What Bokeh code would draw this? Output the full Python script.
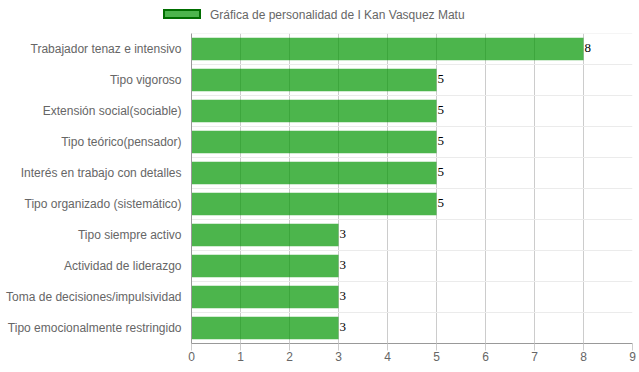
from bokeh.plotting import figure
from bokeh.layouts import column
from bokeh.models import (FactorRange, Range1d, FixedTicker, Span, Div, ColumnDataSource)
from bokeh.core.properties import value
from bokeh.embed import file_html
from bokeh.resources import INLINE

categories = [
    "Trabajador tenaz e intensivo",
    "Tipo vigoroso",
    "Extensión social(sociable)",
    "Tipo teórico(pensador)",
    "Interés en trabajo con detalles",
    "Tipo organizado (sistemático)",
    "Tipo siempre activo",
    "Actividad de liderazgo",
    "Toma de decisiones/impulsividad",
    "Tipo emocionalmente restringido",
]
scores = [8, 5, 5, 5, 5, 5, 3, 3, 3, 3]
series_name = "Gráfica de personalidad de I Kan Vasquez Matu"
x_ticks = [0, 1, 2, 3, 4, 5, 6, 7, 8, 9]

FILL_CSS = "rgba(0,150,0,0.7)"
EDGE_CSS = "rgb(0,110,0)"
FILL = (0, 150, 0)

src = ColumnDataSource(dict(cat=categories, val=scores, lbl=[str(v) for v in scores]))

# ---- legend strip (HTML) ----
legend_html = (
    '<div style="position:relative;width:630px;height:25px;'
    'font-family:\'Liberation Sans\',Arial,sans-serif;font-size:12px;color:#666666;">'
    '<div style="position:absolute;left:163px;top:9px;width:38px;height:10px;'
    f'border:2px solid {EDGE_CSS};background:{FILL_CSS};"></div>'
    '<span style="position:absolute;left:210px;top:8px;line-height:14px;white-space:nowrap;">'
    f'{series_name}</span></div>'
)
leg = Div(text=legend_html, width=630, height=25, margin=(0, 0, 0, 0))

# ---- main chart ----
p = figure(frame_width=441, frame_height=310, output_backend="svg", toolbar_location=None,
           y_range=FactorRange(factors=list(reversed(categories))),
           x_range=Range1d(x_ticks[0], x_ticks[-1]),
           min_border_left=191, min_border_right=6, min_border_top=8, min_border_bottom=13)
p.outline_line_color = None
p.background_fill_color = "white"
p.border_fill_color = "white"

bars = p.hbar(y="cat", right="val", left=0, height=0.72, source=src,
              fill_color=FILL, fill_alpha=0.7, line_color=None)

p.text(x="val", y="cat", text="lbl", source=src, x_offset=1, y_offset=-1,
       text_baseline="middle", text_align="left", text_color="black",
       text_font=value("Liberation Serif"), text_font_size="13px")

# grids
p.xgrid.ticker = FixedTicker(ticks=x_ticks)
p.xgrid.grid_line_color = "#cccccc"
p.ygrid.grid_line_color = None
for k in range(len(categories) + 1):
    p.add_layout(Span(location=k, dimension="width", line_color="#ebebeb", line_width=1,
                      level="underlay"))

# axes
p.xaxis.ticker = FixedTicker(ticks=x_ticks)
p.xaxis.axis_line_color = "#999999"
p.xaxis.major_tick_line_color = "#cccccc"
p.xaxis.major_tick_out = 7
p.xaxis.major_tick_in = 0
p.xaxis.minor_tick_line_color = None
p.xaxis.major_label_standoff = 1
p.xaxis.major_label_text_font = "Liberation Sans"
p.xaxis.major_label_text_font_size = "12px"
p.xaxis.major_label_text_color = "#666666"

p.yaxis.axis_line_color = "#999999"
p.yaxis.major_tick_line_color = None
p.yaxis.major_tick_out = 0
p.yaxis.major_tick_in = 0
p.yaxis.major_label_standoff = 10
p.yaxis.major_label_text_font = "Liberation Sans"
p.yaxis.major_label_text_font_size = "12px"
p.yaxis.major_label_text_color = "#666666"

layout = column(leg, p, spacing=0)
open("out.html", "w").write(file_html(layout, INLINE))
